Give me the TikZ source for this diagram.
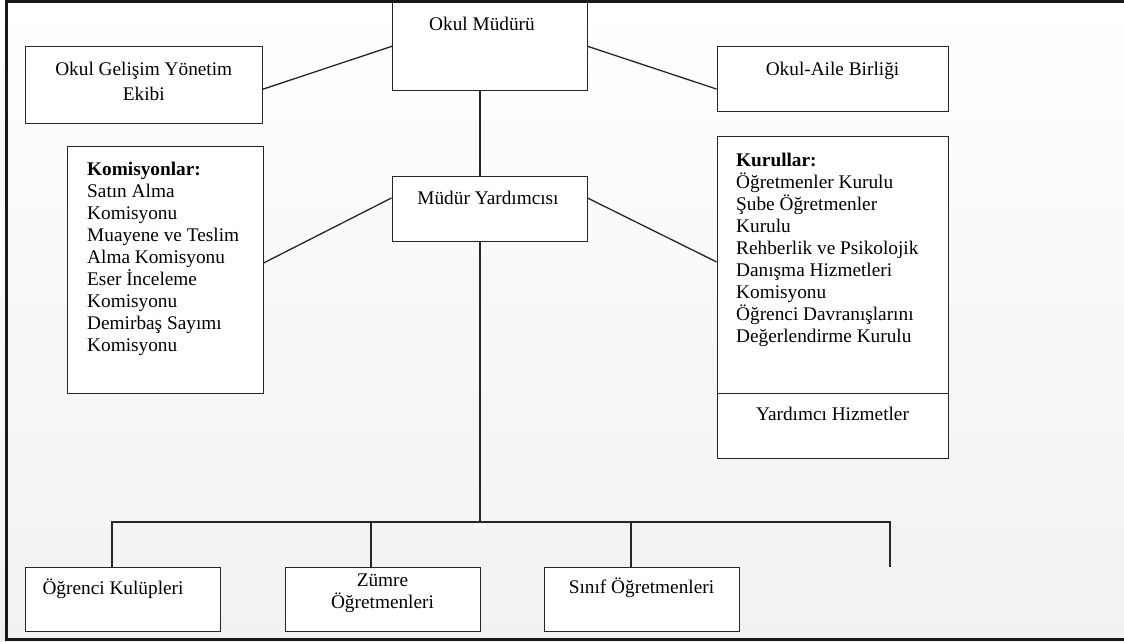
\documentclass[tikz,border=0pt]{standalone}
\usepackage{fontspec}
\setmainfont{Liberation Serif}
\usetikzlibrary{calc}
\definecolor{bgbottom}{RGB}{241,241,241}
\tikzset{
  box/.style={draw=black!85, fill=white, line width=0.9pt, inner sep=0pt},
  txt/.style={inner sep=0pt, font=\fontsize{19.3}{22}\selectfont, align=center, anchor=base},
  ltxt/.style={inner sep=0pt, font=\fontsize{19.3}{22}\selectfont, align=left, anchor=base west},
  conn/.style={draw=black!85, line width=1.3pt},
  frameline/.style={draw=black!90, line width=2.7pt}
}
\begin{document}
\begin{tikzpicture}[x=1pt,y=-1pt]
\useasboundingbox (0,0) rectangle (1124,642);
\shade[top color=white, bottom color=bgbottom] (0,0) rectangle (1124,642);

% boxes
\node[box, minimum width=194.5pt, minimum height=87.5pt] (mudur) at (489.75,46.25) {};
\node[box, minimum width=237.5pt, minimum height=77pt] (ogy) at (143.75,84.5) {};
\node[box, minimum width=231pt, minimum height=65pt] (oab) at (832.5,78.5) {};
\node[box, minimum width=196pt, minimum height=247pt] (kom) at (165,269.5) {};
\node[box, minimum width=195pt, minimum height=65pt] (my) at (489.5,208.5) {};
\node[box, minimum width=231pt, minimum height=257pt] (kur) at (832.5,264.5) {};
\node[box, minimum width=231pt, minimum height=65pt] (yh) at (832.5,425.5) {};
\node[box, minimum width=195pt, minimum height=64pt] (ok) at (122.5,599) {};
\node[box, minimum width=195pt, minimum height=64pt] (zo) at (382.5,599) {};
\node[box, minimum width=195pt, minimum height=64pt] (so) at (641.5,599) {};

% texts (multi-line nodes: base anchor = baseline of last line)
\node[txt] (tmudur) at (482,30.5) {Okul Müdürü};
\node[txt] (togy) at (143.75,100) {Okul Gelişim Yönetim\\[3pt]Ekibi};
\node[txt] (toab) at (832.5,75) {Okul-Aile Birliği};
\node[ltxt] (tkom) at (87,351) {\textbf{Komisyonlar:}\\Satın Alma\\Komisyonu\\Muayene ve Teslim\\Alma Komisyonu\\Eser İnceleme\\Komisyonu\\Demirbaş Sayımı\\Komisyonu};
\node[txt] (tmy) at (488,204.5) {Müdür Yardımcısı};
\node[ltxt] (tkur) at (736,342) {\textbf{Kurullar:}\\Öğretmenler Kurulu\\Şube Öğretmenler\\Kurulu\\Rehberlik ve Psikolojik\\Danışma Hizmetleri\\Komisyonu\\Öğrenci Davranışlarını\\Değerlendirme Kurulu};
\node[txt] (tyh) at (832.5,420.5) {Yardımcı Hizmetler};
\node[txt] (tok) at (113,594.5) {Öğrenci Kulüpleri};
\node[txt] (tzo) at (382.5,608.5) {Zümre\\Öğretmenleri};
\node[txt] (tso) at (641.5,593.5) {Sınıf Öğretmenleri};

% connectors
\draw[conn] ($(ogy.north east)!0.56!(ogy.south east)$) -- (mudur.west);
\draw[conn] (mudur.east) -- ($(oab.north west)!0.66!(oab.south west)$);
\draw[conn] ($(kom.north east)!0.474!(kom.south east)$) -- ($(my.north west)!0.34!(my.south west)$);
\draw[conn] ($(my.north east)!0.34!(my.south east)$) -- ($(kur.north west)!0.49!(kur.south west)$);
\coordinate (mb) at ($(mudur.south west)!0.45!(mudur.south east)$);
\draw[conn] (mb) -- (mb |- my.north);
\coordinate (busR) at (890,522);
\coordinate (free) at (890,567);
\coordinate (myb) at ($(my.south west)!0.451!(my.south east)$);
\draw[conn] (myb) -- (myb |- busR);
\coordinate (okt) at ($(ok.north west)!0.446!(ok.north east)$);
\coordinate (zot) at ($(zo.north west)!0.441!(zo.north east)$);
\coordinate (sot) at ($(so.north west)!0.446!(so.north east)$);
\draw[conn] (okt) |- (busR) -- (free);
\draw[conn] (zot) -- (zot |- busR);
\draw[conn] (sot) -- (sot |- busR);

% outer frame
\draw[frameline] (1124,1.3) -- (6.6,1.3) -- (6.6,639.7) -- (1124,639.7);
\end{tikzpicture}
\end{document}
